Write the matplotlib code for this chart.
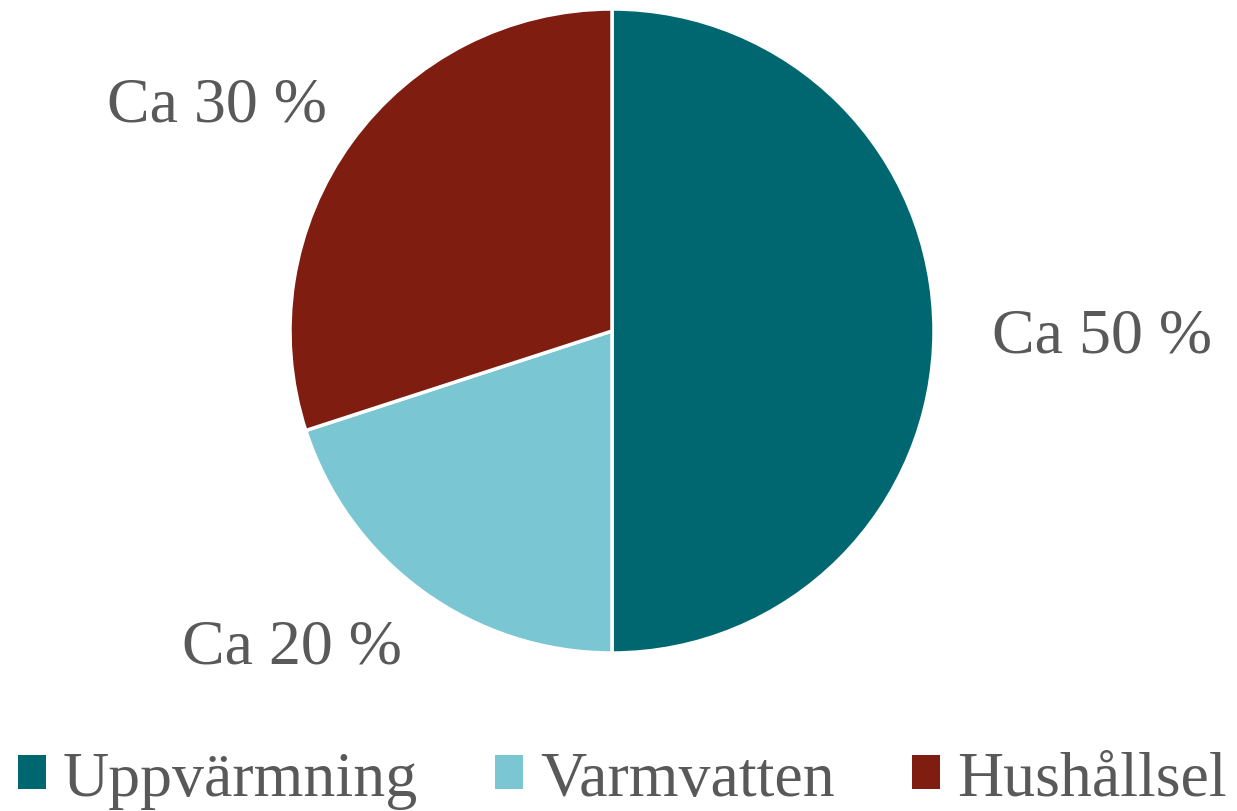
import matplotlib.pyplot as plt
from matplotlib.patches import Patch

# data
categories = ['Uppvärmning', 'Varmvatten', 'Hushållsel']
values = [50, 20, 30]
labels = ['Ca 50 %', 'Ca 20 %', 'Ca 30 %']
colors = ['#006670', '#7AC7D3', '#7F1D10']

plt.rcParams['font.family'] = ['Liberation Serif', 'DejaVu Serif']
txt = '#595959'

fig = plt.figure(figsize=(12.37, 8.12), dpi=100)
W, H = 1237, 812
cx, cy, r = 612, 332, 322
ax = fig.add_axes([(cx - r) / W, (H - cy - r) / H, 2 * r / W, 2 * r / H])

wedges, _ = ax.pie(values, colors=colors, startangle=90, counterclock=False,
                   radius=1, wedgeprops=dict(edgecolor='white', linewidth=2.5))
ax.set_xlim(-1, 1)
ax.set_ylim(-1, 1)
ax.set_aspect('equal')
ax.axis('off')

# slice labels (data-label positions)
label_pos = [(1102, 338), (292, 648), (217, 107)]
for lab, (x, y) in zip(labels, label_pos):
    fig.text(x / W, 1 - y / H, lab, ha='center', va='center', fontsize=46, color=txt)

handles = [Patch(facecolor=c, edgecolor='none') for c in colors]
fig.legend(handles, categories, loc='lower center', bbox_to_anchor=(0.503, -0.052), ncol=3,
           frameon=False, fontsize=46, labelcolor=txt, handlelength=0.44, handleheight=0.44,
           handletextpad=0.27, columnspacing=1.2, borderpad=0.2)

fig.savefig('out.png', dpi=100)
